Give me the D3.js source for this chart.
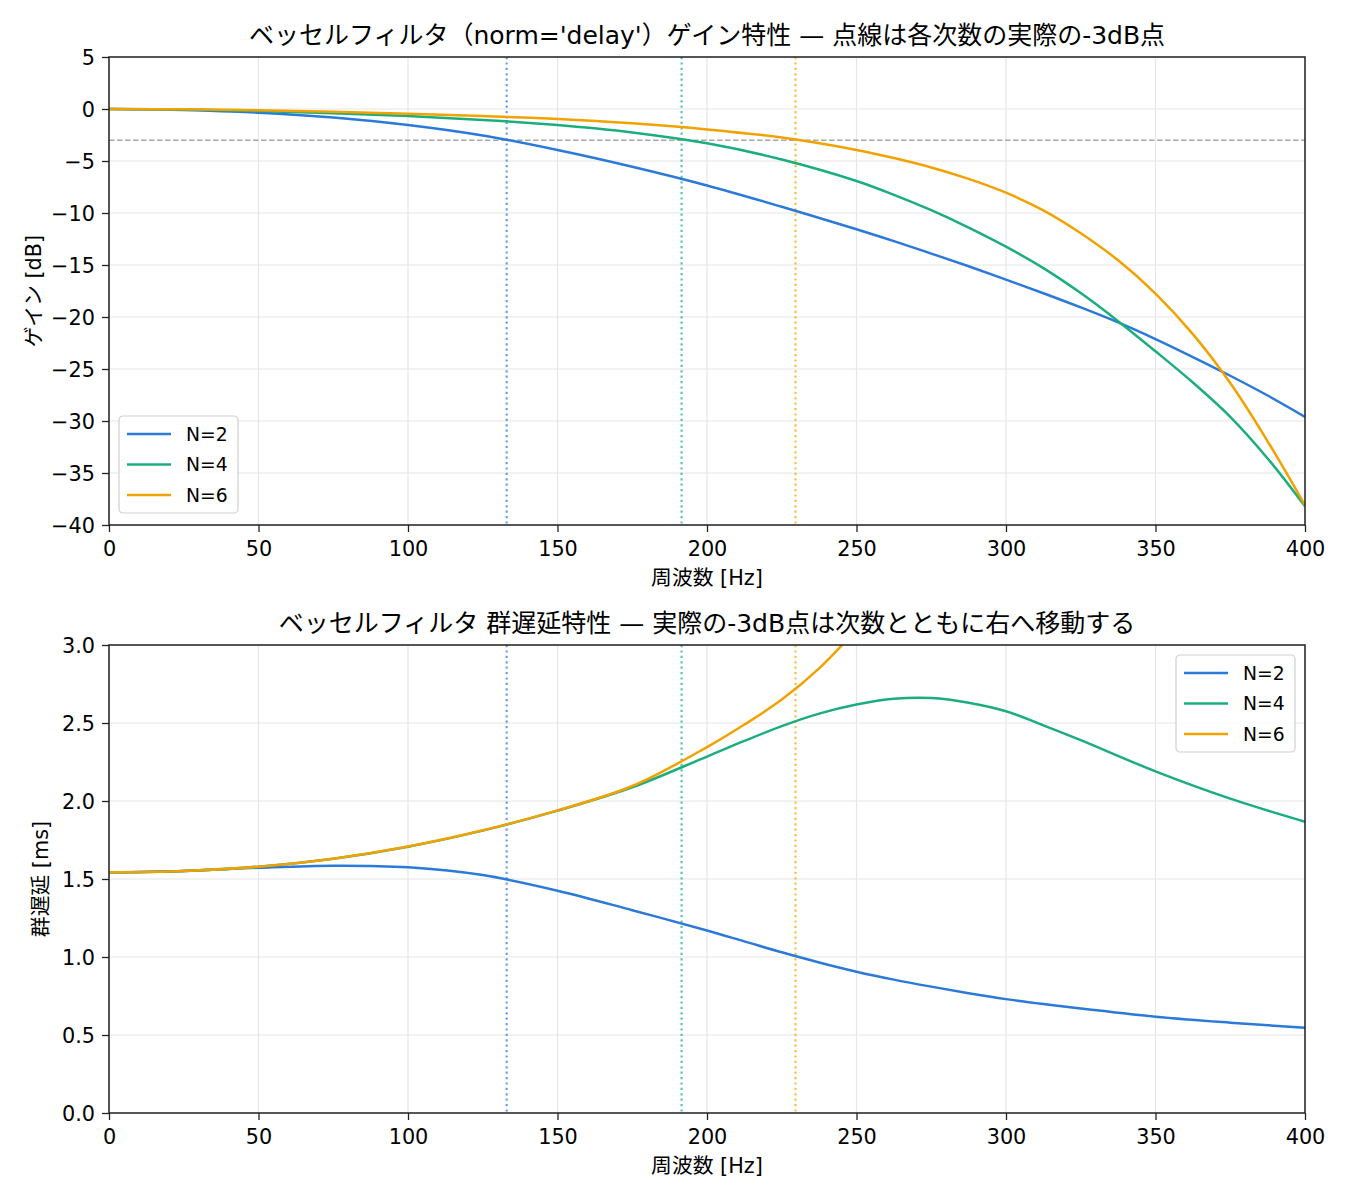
<!DOCTYPE html>
<html>
<head>
<meta charset="utf-8">
<script src="https://cdn.jsdelivr.net/npm/d3@7/dist/d3.min.js"></script>
<style>
  body { margin: 0; background: #fff; }
  svg text { font-family: "DejaVu Sans", "Noto Sans CJK JP", sans-serif; fill: #000; }
</style>
</head>
<body>
<svg id="chart" width="1350" height="1200"></svg>
<script>
// ---- data ----
const seriesNames = ["N=2", "N=4", "N=6"];
const seriesColors = ["#2b79d9", "#1bae7b", "#f2a200"];

// gain [dB] vs frequency [Hz]
const gainFreq = [0, 25, 50, 75, 100, 125, 150, 175, 200, 225, 250, 262.5, 275, 287.5, 300, 312.5, 325, 337.5, 350, 362.5, 375, 387.5, 400];
const gainN2 = [0, -0.09, -0.35, -0.82, -1.54, -2.55, -3.94, -5.55, -7.35, -9.4, -11.56, -12.7, -13.9, -15.12, -16.4, -17.72, -19.08, -20.52, -22.12, -23.85, -25.65, -27.55, -29.6];
const gainN4 = [0, -0.05, -0.2, -0.4, -0.67, -1.05, -1.54, -2.25, -3.3, -4.85, -6.92, -8.25, -9.73, -11.4, -13.24, -15.3, -17.7, -20.4, -23.3, -26.3, -29.6, -33.6, -38.2];
const gainN6 = [0, -0.03, -0.13, -0.27, -0.45, -0.68, -0.96, -1.38, -1.96, -2.75, -3.94, -4.72, -5.62, -6.72, -8.05, -9.75, -11.95, -14.55, -17.75, -21.65, -26.35, -31.95, -38.1];

// group delay [ms] vs frequency [Hz]
const delayFreq = [0, 25, 50, 75, 100, 125, 150, 175, 200, 212.5, 225, 237.5, 250, 262.5, 275, 287.5, 300, 312.5, 325, 350, 375, 400];
const delayN2 = [1.543, 1.552, 1.572, 1.585, 1.575, 1.525, 1.425, 1.30, 1.17, 1.10, 1.03, 0.965, 0.906, 0.855, 0.81, 0.768, 0.73, 0.698, 0.67, 0.617, 0.579, 0.547];
const delayN4 = [1.543, 1.552, 1.579, 1.63, 1.707, 1.81, 1.938, 2.088, 2.285, 2.385, 2.48, 2.56, 2.618, 2.655, 2.66, 2.63, 2.575, 2.485, 2.39, 2.19, 2.015, 1.867];
const delayN6 = [1.543, 1.552, 1.579, 1.63, 1.708, 1.812, 1.94, 2.096, 2.345, 2.49, 2.65, 2.85, 3.1, null, null, null, null, null, null, null, null, null];

// actual -3 dB frequencies per order
const cutoffFreq = [133.0, 191.5, 229.6];

const gainTicks = [5, 0, -5, -10, -15, -20, -25, -30, -35, -40];
const delayTicks = [0.0, 0.5, 1.0, 1.5, 2.0, 2.5, 3.0];
const freqTicks = [0, 50, 100, 150, 200, 250, 300, 350, 400];

// ---- layout ----
const svg = d3.select("#chart");
const left = 109, right = 1305;
const fontTick = 20.8, fontLegend = 18.75, fontTitle = 25;

function fmtMinus(v) {
  return (v < 0 ? "\u2212" : "") + Math.abs(v);
}

function drawPanel(cfg) {
  const x = d3.scaleLinear().domain([0, 400]).range([left, right]);
  const y = d3.scaleLinear().domain(cfg.yDomain).range([cfg.bottom, cfg.top]);
  const g = svg.append("g");

  const clipId = "clip" + cfg.id;
  svg.append("clipPath").attr("id", clipId)
    .append("rect").attr("x", left).attr("y", cfg.top)
    .attr("width", right - left).attr("height", cfg.bottom - cfg.top);

  // grid
  g.append("g").selectAll("line").data(freqTicks).join("line")
    .attr("x1", d => x(d)).attr("x2", d => x(d))
    .attr("y1", cfg.top).attr("y2", cfg.bottom)
    .attr("stroke", "#e6e6e6").attr("stroke-width", 1.2);
  g.append("g").selectAll("line").data(cfg.yTicks).join("line")
    .attr("x1", left).attr("x2", right)
    .attr("y1", d => y(d)).attr("y2", d => y(d))
    .attr("stroke", "#e6e6e6").attr("stroke-width", 1.2);

  const plot = g.append("g").attr("clip-path", `url(#${clipId})`);

  // -3 dB reference
  if (cfg.refLine !== undefined) {
    plot.append("line")
      .attr("x1", left).attr("x2", right)
      .attr("y1", y(cfg.refLine)).attr("y2", y(cfg.refLine))
      .attr("stroke", "#a8a8a8").attr("stroke-width", 1.6)
      .attr("stroke-dasharray", "5.5,2.5");
  }

  // cutoff markers
  plot.selectAll(".cut").data(cutoffFreq).join("line")
    .attr("x1", d => x(d)).attr("x2", d => x(d))
    .attr("y1", cfg.top).attr("y2", cfg.bottom)
    .attr("stroke", (d, i) => seriesColors[i]).attr("stroke-opacity", 0.7)
    .attr("stroke-width", 2.2).attr("stroke-dasharray", "2.2,3.2");

  // curves
  const line = d3.line()
    .defined(d => d[1] !== null)
    .x(d => x(d[0])).y(d => y(d[1]))
    .curve(d3.curveCatmullRom.alpha(0.5));
  cfg.series.forEach((vals, i) => {
    plot.append("path")
      .datum(cfg.freq.map((f, k) => [f, vals[k]]))
      .attr("d", line)
      .attr("fill", "none")
      .attr("stroke", seriesColors[i])
      .attr("stroke-width", 2.5);
  });

  // axes
  const xAxis = g.append("g").attr("transform", `translate(0,${cfg.bottom})`)
    .call(d3.axisBottom(x).tickValues(freqTicks).tickSize(7).tickPadding(7).tickFormat(d => d));
  const yAxis = g.append("g").attr("transform", `translate(${left},0)`)
    .call(d3.axisLeft(y).tickValues(cfg.yTicks).tickSize(7).tickPadding(7).tickFormat(cfg.yFmt));
  [xAxis, yAxis].forEach(a => {
    a.select(".domain").remove();
    a.selectAll(".tick line").attr("stroke", "#222").attr("stroke-width", 1.3);
    a.selectAll(".tick text").attr("font-size", fontTick).attr("fill", "#000")
      .style("font-family", '"DejaVu Sans", "Noto Sans CJK JP", sans-serif');
  });
  xAxis.selectAll(".tick text").attr("dy", "0.8em");
  yAxis.selectAll(".tick text").attr("dy", "0.36em");

  // frame
  g.append("rect").attr("x", left).attr("y", cfg.top)
    .attr("width", right - left).attr("height", cfg.bottom - cfg.top)
    .attr("fill", "none").attr("stroke", "#222").attr("stroke-width", 1.5);

  // titles and labels
  g.append("text").attr("x", (left + right) / 2).attr("y", cfg.top - 13)
    .attr("text-anchor", "middle").attr("font-size", fontTitle).text(cfg.title);
  g.append("text").attr("x", (left + right) / 2).attr("y", cfg.bottom + 60)
    .attr("text-anchor", "middle").attr("font-size", fontTick).text("周波数 [Hz]");
  g.append("text")
    .attr("transform", `translate(${cfg.ylabelX},${(cfg.top + cfg.bottom) / 2}) rotate(-90)`)
    .attr("text-anchor", "middle").attr("font-size", fontTick).text(cfg.ylabel);

  // legend
  const lg = g.append("g").attr("transform", `translate(${cfg.legend[0]},${cfg.legend[1]})`);
  lg.append("rect").attr("x", 0).attr("y", 0).attr("width", 119).attr("height", 97)
    .attr("rx", 4).attr("fill", "#fff").attr("fill-opacity", 0.85)
    .attr("stroke", "#d0d0d0").attr("stroke-width", 1.2);
  seriesNames.forEach((name, i) => {
    const ry = 18 + i * 30.5;
    lg.append("line").attr("x1", 8).attr("x2", 52).attr("y1", ry).attr("y2", ry)
      .attr("stroke", seriesColors[i]).attr("stroke-width", 2.5);
    lg.append("text").attr("x", 67).attr("y", ry).attr("dy", "0.36em")
      .attr("font-size", fontLegend).text(name);
  });
}

drawPanel({
  id: "gain", top: 57, bottom: 525, yDomain: [-40, 5], yTicks: gainTicks,
  yFmt: d => fmtMinus(d), freq: gainFreq, series: [gainN2, gainN4, gainN6],
  refLine: -3, ylabel: "ゲイン [dB]", ylabelX: 41,
  title: "ベッセルフィルタ（norm='delay'）ゲイン特性 — 点線は各次数の実際の-3dB点",
  legend: [119, 416]
});

drawPanel({
  id: "delay", top: 645, bottom: 1113, yDomain: [0, 3], yTicks: delayTicks,
  yFmt: d => d.toFixed(1), freq: delayFreq, series: [delayN2, delayN4, delayN6],
  ylabel: "群遅延 [ms]", ylabelX: 48,
  title: "ベッセルフィルタ 群遅延特性 — 実際の-3dB点は次数とともに右へ移動する",
  legend: [1176, 655]
});
</script>
</body>
</html>
